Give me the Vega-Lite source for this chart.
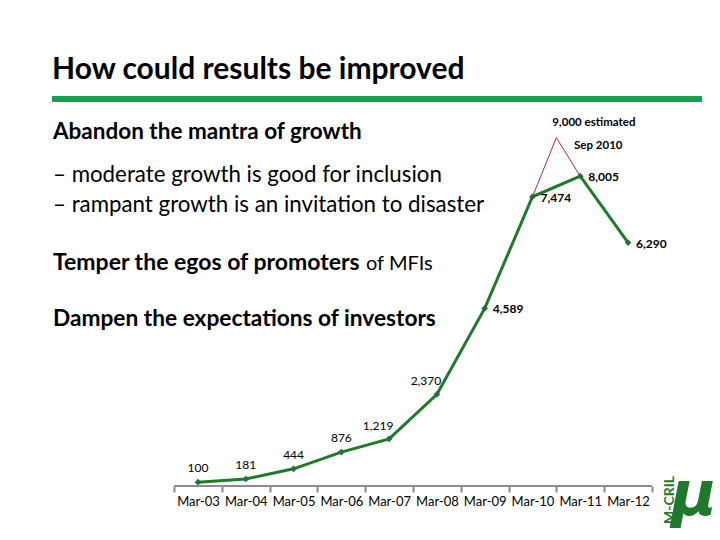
{
  "$schema": "https://vega.github.io/schema/vega-lite/v6.json",
  "width": 650,
  "height": 387,
  "autosize": {"type": "none"},
  "padding": {"left": 52, "top": 99, "right": 18, "bottom": 54},
  "background": "white",
  "config": {"view": {"stroke": null}, "font": "Lato"},
  "title": {
    "text": "How could results be improved",
    "anchor": "start",
    "frame": "group",
    "orient": "top",
    "font": "Lato",
    "fontSize": 30,
    "fontWeight": "bold",
    "color": "#000000",
    "baseline": "alphabetic",
    "offset": -13
  },
  "datasets": {
    "series": [
      {"period": "Mar-03", "idx": 0, "value": 100},
      {"period": "Mar-04", "idx": 1, "value": 181},
      {"period": "Mar-05", "idx": 2, "value": 444},
      {"period": "Mar-06", "idx": 3, "value": 876},
      {"period": "Mar-07", "idx": 4, "value": 1219},
      {"period": "Mar-08", "idx": 5, "value": 2370},
      {"period": "Mar-09", "idx": 6, "value": 4589},
      {"period": "Mar-10", "idx": 7, "value": 7474},
      {"period": "Mar-11", "idx": 8, "value": 8005, "note": "Sep 2010"},
      {"period": "Mar-12", "idx": 9, "value": 6290}
    ],
    "estimate": [
      {"idx": 7, "value": 7474},
      {"idx": 7.5, "value": 9000, "note": "9,000 estimated"},
      {"idx": 8, "value": 8005}
    ]
  },
  "layer": [
    {
      "data": {"name": "series"},
      "mark": {
        "type": "line",
        "color": "#1f7a2c",
        "strokeWidth": 3,
        "point": {"shape": "diamond", "filled": true, "size": 45, "color": "#24703a"}
      },
      "encoding": {
        "x": {
          "field": "idx",
          "type": "quantitative",
          "scale": {"domain": [-3.056, 10.548], "nice": false, "zero": false},
          "axis": {
            "values": [0, 1, 2, 3, 4, 5, 6, 7, 8, 9, 10],
            "labelExpr": "datum.value < 10 ? ['Mar-03','Mar-04','Mar-05','Mar-06','Mar-07','Mar-08','Mar-09','Mar-10','Mar-11','Mar-12'][datum.value] : ''",
            "title": null,
            "domain": false,
            "grid": false,
            "ticks": true,
            "tickColor": "#8c8c8c",
            "tickWidth": 2,
            "tickSize": 6,
            "tickOffset": -23.89,
            "labelOffset": 23.89,
            "labelFont": "Lato",
            "labelFontSize": 13,
            "labelColor": "#000000",
            "labelPadding": 3,
            "labelFlush": false,
            "labelOverlap": false,
            "labelBound": false
          }
        },
        "y": {
          "field": "value",
          "type": "quantitative",
          "scale": {"domain": [0, 10000], "nice": false, "zero": true},
          "axis": null
        }
      }
    },
    {
      "data": {"name": "estimate"},
      "mark": {"type": "line", "color": "#b5283c", "strokeWidth": 1},
      "encoding": {
        "x": {"field": "idx", "type": "quantitative"},
        "y": {"field": "value", "type": "quantitative", "axis": null}
      }
    },
    {
      "data": {"values": [{}]},
      "mark": {"type": "rule", "color": "#12a150", "strokeWidth": 6},
      "encoding": {
        "x": {"datum": -3.056, "type": "quantitative"},
        "x2": {"datum": 10.548},
        "y": {"datum": 10000, "type": "quantitative", "axis": null}
      }
    },
    {
      "data": {"values": [{}]},
      "mark": {"type": "rule", "color": "#8c8c8c", "strokeWidth": 2},
      "encoding": {
        "x": {"datum": -0.5, "type": "quantitative"},
        "x2": {"datum": 9.5},
        "y": {"datum": 0, "type": "quantitative", "axis": null}
      }
    },
    {
      "data": {"name": "series"},
      "transform": [{"filter": "datum.idx <= 3"}],
      "mark": {"type": "text", "dy": -14, "fontSize": 12, "color": "#000000", "font": "Lato"},
      "encoding": {
        "x": {"field": "idx", "type": "quantitative"},
        "y": {"field": "value", "type": "quantitative", "axis": null},
        "text": {"field": "value", "type": "quantitative", "format": ","}
      }
    },
    {
      "data": {"name": "series"},
      "transform": [{"filter": "datum.idx == 4 || datum.idx == 5"}],
      "mark": {"type": "text", "dx": -11, "dy": -13, "fontSize": 12, "color": "#000000", "font": "Lato"},
      "encoding": {
        "x": {"field": "idx", "type": "quantitative"},
        "y": {"field": "value", "type": "quantitative", "axis": null},
        "text": {"field": "value", "type": "quantitative", "format": ","}
      }
    },
    {
      "data": {"name": "series"},
      "transform": [{"filter": "datum.idx >= 6"}],
      "mark": {"type": "text", "align": "left", "dx": 8, "dy": 1, "fontSize": 12, "fontWeight": "bold", "color": "#000000", "font": "Lato"},
      "encoding": {
        "x": {"field": "idx", "type": "quantitative"},
        "y": {"field": "value", "type": "quantitative", "axis": null},
        "text": {"field": "value", "type": "quantitative", "format": ","}
      }
    },
    {
      "data": {"name": "series"},
      "transform": [{"filter": "isValid(datum.note)"}],
      "mark": {"type": "text", "dx": 18, "dy": -30, "fontSize": 11.5, "fontWeight": "bold", "color": "#000000", "font": "Lato"},
      "encoding": {
        "x": {"field": "idx", "type": "quantitative"},
        "y": {"field": "value", "type": "quantitative", "axis": null},
        "text": {"field": "note"}
      }
    },
    {
      "data": {"name": "estimate"},
      "transform": [{"filter": "isValid(datum.note)"}],
      "mark": {"type": "text", "align": "left", "dx": -4, "dy": -15, "fontSize": 11.5, "fontWeight": "bold", "color": "#000000", "font": "Lato"},
      "encoding": {
        "x": {"field": "idx", "type": "quantitative"},
        "y": {"field": "value", "type": "quantitative", "axis": null},
        "text": {"field": "note"}
      }
    },
    {
      "data": {"values": [{}]},
      "mark": {"type": "text", "text": "Abandon the mantra of growth", "align": "left", "baseline": "alphabetic", "dx": 1, "fontSize": 22.5, "fontWeight": "bold", "color": "#000000", "font": "Lato"},
      "encoding": {"x": {"datum": -3.056, "type": "quantitative"}, "y": {"datum": 8966, "type": "quantitative", "axis": null}}
    },
    {
      "data": {"values": [{}]},
      "mark": {"type": "text", "text": "– moderate growth is good for inclusion", "align": "left", "baseline": "alphabetic", "dx": 1, "fontSize": 22.3, "color": "#000000", "font": "Lato"},
      "encoding": {"x": {"datum": -3.056, "type": "quantitative"}, "y": {"datum": 7855, "type": "quantitative", "axis": null}}
    },
    {
      "data": {"values": [{}]},
      "mark": {"type": "text", "text": "– rampant growth is an invitation to disaster", "align": "left", "baseline": "alphabetic", "dx": 1, "fontSize": 22.3, "color": "#000000", "font": "Lato"},
      "encoding": {"x": {"datum": -3.056, "type": "quantitative"}, "y": {"datum": 7080, "type": "quantitative", "axis": null}}
    },
    {
      "data": {"values": [{}]},
      "mark": {"type": "text", "text": "Temper the egos of promoters", "align": "left", "baseline": "alphabetic", "dx": 1, "fontSize": 23, "fontWeight": "bold", "color": "#000000", "font": "Lato"},
      "encoding": {"x": {"datum": -3.056, "type": "quantitative"}, "y": {"datum": 5581, "type": "quantitative", "axis": null}}
    },
    {
      "data": {"values": [{}]},
      "mark": {"type": "text", "text": "of MFIs", "align": "left", "baseline": "alphabetic", "dx": 314, "fontSize": 20, "color": "#000000", "font": "Lato"},
      "encoding": {"x": {"datum": -3.056, "type": "quantitative"}, "y": {"datum": 5581, "type": "quantitative", "axis": null}}
    },
    {
      "data": {"values": [{}]},
      "mark": {"type": "text", "text": "Dampen the  expectations of investors", "align": "left", "baseline": "alphabetic", "dx": 1, "fontSize": 22.7, "fontWeight": "bold", "color": "#000000", "font": "Lato"},
      "encoding": {"x": {"datum": -3.056, "type": "quantitative"}, "y": {"datum": 4134, "type": "quantitative", "axis": null}}
    },
    {
      "data": {"values": [{}]},
      "mark": {"type": "text", "text": "M-CRIL", "angle": 270, "fontSize": 14, "fontWeight": "bold", "color": "#1e7a2a", "font": "Lato"},
      "encoding": {"x": {"datum": 9.88, "type": "quantitative"}, "y": {"datum": -362, "type": "quantitative", "axis": null}}
    },
    {
      "data": {"values": [{}]},
      "mark": {"type": "text", "text": "μ", "fontSize": 62, "fontWeight": "bold", "fontStyle": "italic", "color": "#1e7a2a", "font": "DejaVu Sans"},
      "encoding": {"x": {"datum": 10.38, "type": "quantitative"}, "y": {"datum": -250, "type": "quantitative", "axis": null}}
    }
  ]
}
